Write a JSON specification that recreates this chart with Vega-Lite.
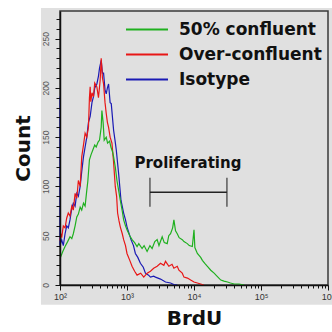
{
  "$schema": "https://vega.github.io/schema/vega-lite/v6.json",
  "width": 268,
  "height": 274,
  "autosize": "none",
  "padding": {"left": 60, "top": 11, "right": 4, "bottom": 47},
  "background": "white",
  "config": {"view": {"stroke": null}, "font": "Liberation Sans"},
  "resolve": {"axis": {"y": "independent"}},
  "datasets": {
    "hist": [
      {"s": "Isotype", "x": 100, "c": 191},
      {"s": "Isotype", "x": 100, "c": 40},
      {"s": "Isotype", "x": 106, "c": 46},
      {"s": "Isotype", "x": 112, "c": 40},
      {"s": "Isotype", "x": 119, "c": 52},
      {"s": "Isotype", "x": 126, "c": 60},
      {"s": "Isotype", "x": 133, "c": 58},
      {"s": "Isotype", "x": 141, "c": 66},
      {"s": "Isotype", "x": 150, "c": 78},
      {"s": "Isotype", "x": 158, "c": 83},
      {"s": "Isotype", "x": 168, "c": 80},
      {"s": "Isotype", "x": 178, "c": 93},
      {"s": "Isotype", "x": 188, "c": 90},
      {"s": "Isotype", "x": 200, "c": 100},
      {"s": "Isotype", "x": 211, "c": 115},
      {"s": "Isotype", "x": 224, "c": 130},
      {"s": "Isotype", "x": 237, "c": 140},
      {"s": "Isotype", "x": 251, "c": 150},
      {"s": "Isotype", "x": 266, "c": 165},
      {"s": "Isotype", "x": 282, "c": 171},
      {"s": "Isotype", "x": 300, "c": 185},
      {"s": "Isotype", "x": 316, "c": 191},
      {"s": "Isotype", "x": 330, "c": 200},
      {"s": "Isotype", "x": 355, "c": 204},
      {"s": "Isotype", "x": 375, "c": 212},
      {"s": "Isotype", "x": 389, "c": 220},
      {"s": "Isotype", "x": 412, "c": 228},
      {"s": "Isotype", "x": 430, "c": 215},
      {"s": "Isotype", "x": 447, "c": 215},
      {"s": "Isotype", "x": 470, "c": 198},
      {"s": "Isotype", "x": 490, "c": 194},
      {"s": "Isotype", "x": 510, "c": 200},
      {"s": "Isotype", "x": 531, "c": 204},
      {"s": "Isotype", "x": 560, "c": 185},
      {"s": "Isotype", "x": 582, "c": 184},
      {"s": "Isotype", "x": 631, "c": 157},
      {"s": "Isotype", "x": 668, "c": 145},
      {"s": "Isotype", "x": 692, "c": 137},
      {"s": "Isotype", "x": 750, "c": 113},
      {"s": "Isotype", "x": 813, "c": 86},
      {"s": "Isotype", "x": 891, "c": 73},
      {"s": "Isotype", "x": 950, "c": 66},
      {"s": "Isotype", "x": 1000, "c": 59},
      {"s": "Isotype", "x": 1148, "c": 46},
      {"s": "Isotype", "x": 1250, "c": 40},
      {"s": "Isotype", "x": 1334, "c": 32},
      {"s": "Isotype", "x": 1450, "c": 28},
      {"s": "Isotype", "x": 1585, "c": 22},
      {"s": "Isotype", "x": 1750, "c": 18},
      {"s": "Isotype", "x": 1884, "c": 12},
      {"s": "Isotype", "x": 2100, "c": 10},
      {"s": "Isotype", "x": 2239, "c": 8},
      {"s": "Isotype", "x": 2500, "c": 9},
      {"s": "Isotype", "x": 2661, "c": 8},
      {"s": "Isotype", "x": 3162, "c": 6},
      {"s": "Isotype", "x": 3758, "c": 3},
      {"s": "Isotype", "x": 4467, "c": 2},
      {"s": "Isotype", "x": 5000, "c": 0.5},
      {"s": "Isotype", "x": 5623, "c": 0},
      {"s": "Over-confluent", "x": 100, "c": 45},
      {"s": "Over-confluent", "x": 103, "c": 52},
      {"s": "Over-confluent", "x": 106, "c": 48},
      {"s": "Over-confluent", "x": 112, "c": 60},
      {"s": "Over-confluent", "x": 119, "c": 58},
      {"s": "Over-confluent", "x": 126, "c": 68},
      {"s": "Over-confluent", "x": 133, "c": 73},
      {"s": "Over-confluent", "x": 141, "c": 70},
      {"s": "Over-confluent", "x": 150, "c": 80},
      {"s": "Over-confluent", "x": 158, "c": 76},
      {"s": "Over-confluent", "x": 168, "c": 93},
      {"s": "Over-confluent", "x": 178, "c": 88},
      {"s": "Over-confluent", "x": 188, "c": 106},
      {"s": "Over-confluent", "x": 200, "c": 100},
      {"s": "Over-confluent", "x": 211, "c": 130},
      {"s": "Over-confluent", "x": 224, "c": 142},
      {"s": "Over-confluent", "x": 237, "c": 154},
      {"s": "Over-confluent", "x": 251, "c": 150},
      {"s": "Over-confluent", "x": 266, "c": 160},
      {"s": "Over-confluent", "x": 275, "c": 190},
      {"s": "Over-confluent", "x": 282, "c": 201},
      {"s": "Over-confluent", "x": 288, "c": 186},
      {"s": "Over-confluent", "x": 300, "c": 195},
      {"s": "Over-confluent", "x": 316, "c": 191},
      {"s": "Over-confluent", "x": 330, "c": 205},
      {"s": "Over-confluent", "x": 355, "c": 201},
      {"s": "Over-confluent", "x": 375, "c": 190},
      {"s": "Over-confluent", "x": 398, "c": 208},
      {"s": "Over-confluent", "x": 412, "c": 230},
      {"s": "Over-confluent", "x": 430, "c": 210},
      {"s": "Over-confluent", "x": 447, "c": 204},
      {"s": "Over-confluent", "x": 470, "c": 185},
      {"s": "Over-confluent", "x": 490, "c": 174},
      {"s": "Over-confluent", "x": 510, "c": 165},
      {"s": "Over-confluent", "x": 531, "c": 160},
      {"s": "Over-confluent", "x": 560, "c": 150},
      {"s": "Over-confluent", "x": 596, "c": 144},
      {"s": "Over-confluent", "x": 630, "c": 125},
      {"s": "Over-confluent", "x": 668, "c": 100},
      {"s": "Over-confluent", "x": 700, "c": 90},
      {"s": "Over-confluent", "x": 724, "c": 73},
      {"s": "Over-confluent", "x": 760, "c": 65},
      {"s": "Over-confluent", "x": 794, "c": 59},
      {"s": "Over-confluent", "x": 850, "c": 52},
      {"s": "Over-confluent", "x": 891, "c": 46},
      {"s": "Over-confluent", "x": 950, "c": 40},
      {"s": "Over-confluent", "x": 1000, "c": 32},
      {"s": "Over-confluent", "x": 1100, "c": 25},
      {"s": "Over-confluent", "x": 1189, "c": 19},
      {"s": "Over-confluent", "x": 1300, "c": 14},
      {"s": "Over-confluent", "x": 1413, "c": 10},
      {"s": "Over-confluent", "x": 1600, "c": 12},
      {"s": "Over-confluent", "x": 1778, "c": 8},
      {"s": "Over-confluent", "x": 2000, "c": 12},
      {"s": "Over-confluent", "x": 2239, "c": 14},
      {"s": "Over-confluent", "x": 2500, "c": 17},
      {"s": "Over-confluent", "x": 2818, "c": 19},
      {"s": "Over-confluent", "x": 3162, "c": 22},
      {"s": "Over-confluent", "x": 3548, "c": 20},
      {"s": "Over-confluent", "x": 3758, "c": 24},
      {"s": "Over-confluent", "x": 4217, "c": 19},
      {"s": "Over-confluent", "x": 4700, "c": 21},
      {"s": "Over-confluent", "x": 5012, "c": 17},
      {"s": "Over-confluent", "x": 5623, "c": 19},
      {"s": "Over-confluent", "x": 5957, "c": 15},
      {"s": "Over-confluent", "x": 6683, "c": 12},
      {"s": "Over-confluent", "x": 7079, "c": 8},
      {"s": "Over-confluent", "x": 8000, "c": 7},
      {"s": "Over-confluent", "x": 8913, "c": 5},
      {"s": "Over-confluent", "x": 10000, "c": 3},
      {"s": "Over-confluent", "x": 11220, "c": 2},
      {"s": "Over-confluent", "x": 12589, "c": 1},
      {"s": "Over-confluent", "x": 14000, "c": 0},
      {"s": "50% confluent", "x": 100, "c": 30},
      {"s": "50% confluent", "x": 103, "c": 29},
      {"s": "50% confluent", "x": 110, "c": 34},
      {"s": "50% confluent", "x": 119, "c": 39},
      {"s": "50% confluent", "x": 130, "c": 44},
      {"s": "50% confluent", "x": 141, "c": 49},
      {"s": "50% confluent", "x": 150, "c": 47},
      {"s": "50% confluent", "x": 158, "c": 52},
      {"s": "50% confluent", "x": 168, "c": 60},
      {"s": "50% confluent", "x": 178, "c": 69},
      {"s": "50% confluent", "x": 188, "c": 72},
      {"s": "50% confluent", "x": 200, "c": 79},
      {"s": "50% confluent", "x": 211, "c": 76},
      {"s": "50% confluent", "x": 224, "c": 83},
      {"s": "50% confluent", "x": 237, "c": 80},
      {"s": "50% confluent", "x": 251, "c": 96},
      {"s": "50% confluent", "x": 260, "c": 105},
      {"s": "50% confluent", "x": 275, "c": 127},
      {"s": "50% confluent", "x": 290, "c": 132},
      {"s": "50% confluent", "x": 309, "c": 137},
      {"s": "50% confluent", "x": 330, "c": 142},
      {"s": "50% confluent", "x": 347, "c": 140},
      {"s": "50% confluent", "x": 370, "c": 145},
      {"s": "50% confluent", "x": 389, "c": 147},
      {"s": "50% confluent", "x": 412, "c": 160},
      {"s": "50% confluent", "x": 422, "c": 177},
      {"s": "50% confluent", "x": 440, "c": 165},
      {"s": "50% confluent", "x": 457, "c": 147},
      {"s": "50% confluent", "x": 490, "c": 150},
      {"s": "50% confluent", "x": 513, "c": 144},
      {"s": "50% confluent", "x": 550, "c": 146},
      {"s": "50% confluent", "x": 575, "c": 140},
      {"s": "50% confluent", "x": 610, "c": 135},
      {"s": "50% confluent", "x": 631, "c": 130},
      {"s": "50% confluent", "x": 668, "c": 120},
      {"s": "50% confluent", "x": 708, "c": 106},
      {"s": "50% confluent", "x": 750, "c": 96},
      {"s": "50% confluent", "x": 794, "c": 86},
      {"s": "50% confluent", "x": 850, "c": 75},
      {"s": "50% confluent", "x": 891, "c": 66},
      {"s": "50% confluent", "x": 950, "c": 60},
      {"s": "50% confluent", "x": 1000, "c": 56},
      {"s": "50% confluent", "x": 1100, "c": 50},
      {"s": "50% confluent", "x": 1189, "c": 46},
      {"s": "50% confluent", "x": 1300, "c": 43},
      {"s": "50% confluent", "x": 1413, "c": 39},
      {"s": "50% confluent", "x": 1500, "c": 42},
      {"s": "50% confluent", "x": 1679, "c": 37},
      {"s": "50% confluent", "x": 1800, "c": 40},
      {"s": "50% confluent", "x": 1995, "c": 34},
      {"s": "50% confluent", "x": 2200, "c": 40},
      {"s": "50% confluent", "x": 2371, "c": 37},
      {"s": "50% confluent", "x": 2600, "c": 44},
      {"s": "50% confluent", "x": 2818, "c": 46},
      {"s": "50% confluent", "x": 3000, "c": 40},
      {"s": "50% confluent", "x": 3350, "c": 49},
      {"s": "50% confluent", "x": 3600, "c": 43},
      {"s": "50% confluent", "x": 3981, "c": 42},
      {"s": "50% confluent", "x": 4200, "c": 50},
      {"s": "50% confluent", "x": 4467, "c": 52},
      {"s": "50% confluent", "x": 4800, "c": 58},
      {"s": "50% confluent", "x": 5012, "c": 66},
      {"s": "50% confluent", "x": 5300, "c": 55},
      {"s": "50% confluent", "x": 5623, "c": 52},
      {"s": "50% confluent", "x": 6000, "c": 48},
      {"s": "50% confluent", "x": 6683, "c": 46},
      {"s": "50% confluent", "x": 7079, "c": 44},
      {"s": "50% confluent", "x": 7943, "c": 42},
      {"s": "50% confluent", "x": 8500, "c": 40},
      {"s": "50% confluent", "x": 9441, "c": 39},
      {"s": "50% confluent", "x": 10000, "c": 56},
      {"s": "50% confluent", "x": 10300, "c": 38},
      {"s": "50% confluent", "x": 11220, "c": 32},
      {"s": "50% confluent", "x": 12589, "c": 28},
      {"s": "50% confluent", "x": 13335, "c": 25},
      {"s": "50% confluent", "x": 14500, "c": 22},
      {"s": "50% confluent", "x": 15849, "c": 19},
      {"s": "50% confluent", "x": 17800, "c": 15},
      {"s": "50% confluent", "x": 19953, "c": 12},
      {"s": "50% confluent", "x": 22000, "c": 9},
      {"s": "50% confluent", "x": 25119, "c": 5},
      {"s": "50% confluent", "x": 28000, "c": 4},
      {"s": "50% confluent", "x": 31623, "c": 3},
      {"s": "50% confluent", "x": 35000, "c": 2},
      {"s": "50% confluent", "x": 39811, "c": 1},
      {"s": "50% confluent", "x": 47000, "c": 1},
      {"s": "50% confluent", "x": 56234, "c": 0}
    ],
    "gate": [
      {"label": "Proliferating", "lo": 2200, "hi": 31000, "count": 94}
    ]
  },
  "layer": [
    {
      "data": {"values": [{}]},
      "mark": {"type": "rect", "clip": false, "color": "#e0e0e0"},
      "encoding": {
        "x": {"datum": 52, "type": "quantitative"},
        "x2": {"datum": 1200000},
        "y": {
          "datum": -20, "type": "quantitative",
          "axis": {
            "orient": "left", "zindex": 1, "title": null, "labels": false, "domain": false, "grid": false,
            "values": [10, 20, 30, 40, 60, 70, 80, 90, 110, 120, 130, 140, 160, 170, 180, 190, 210, 220, 230, 240, 260, 270],
            "tickColor": "#111", "tickWidth": 1, "tickSize": 4
          }
        },
        "y2": {"datum": 281}
      }
    },
    {
      "data": {"values": [{}]},
      "mark": {"type": "rect", "clip": false, "fillOpacity": 0, "stroke": "#3a3a3a", "strokeWidth": 1.5},
      "encoding": {
        "x": {"datum": 100, "type": "quantitative"},
        "x2": {"datum": 1000000},
        "y": {"datum": 0, "type": "quantitative", "axis": null},
        "y2": {"datum": 278}
      }
    },
    {
      "data": {"name": "hist"},
      "mark": {"type": "line", "strokeWidth": 1.2, "interpolate": "linear"},
      "encoding": {
        "x": {
          "field": "x", "type": "quantitative",
          "scale": {"type": "log", "domain": [100, 1000000], "nice": false},
          "axis": {
            "zindex": 1,
            "title": "BrdU",
            "titleFont": "DejaVu Sans", "titleFontSize": 20, "titleFontWeight": "bold", "titleColor": "#111",
            "titlePadding": 7,
            "values": [100, 200, 300, 400, 500, 600, 700, 800, 900, 1000, 2000, 3000, 4000, 5000, 6000, 7000, 8000, 9000, 10000, 20000, 30000, 40000, 50000, 60000, 70000, 80000, 90000, 100000, 200000, 300000, 400000, 500000, 600000, 700000, 800000, 900000, 1000000],
            "labelExpr": "datum.value==100?'10²':datum.value==1000?'10³':datum.value==10000?'10⁴':datum.value==100000?'10⁵':datum.value==1000000?'10⁶':''",
            "labelFontSize": 9, "labelColor": "#333", "labelFlush": false, "labelOverlap": false, "labelPadding": 2,
            "tickColor": "#111", "domainColor": "#111", "domainWidth": 1.5, "tickWidth": 1,
            "tickSize": {"condition": {"test": "datum.value==100||datum.value==1000||datum.value==10000||datum.value==100000||datum.value==1000000", "value": 5}, "value": 3},
            "grid": false
          }
        },
        "y": {
          "field": "c", "type": "quantitative",
          "scale": {"domain": [0, 278], "nice": false},
          "axis": {
            "orient": "left",
            "zindex": 1,
            "title": "Count",
            "titleFont": "DejaVu Sans", "titleFontSize": 20, "titleFontWeight": "bold", "titleColor": "#111",
            "titlePadding": 8,
            "values": [0, 50, 100, 150, 200, 250],
            "labelAngle": -90, "labelFontSize": 8.5, "labelColor": "#555", "labelPadding": 5, "labelOverlap": false, "labelFlush": false,
            "tickColor": "#111", "domainColor": "#111", "domainWidth": 1.5, "tickWidth": 1, "tickSize": 5,
            "grid": false
          }
        },
        "color": {
          "field": "s", "type": "nominal",
          "scale": {"domain": ["50% confluent", "Over-confluent", "Isotype"], "range": ["#1fb01f", "#e81616", "#1a1ab4"]},
          "legend": {
            "title": null, "orient": "none", "legendX": 75.5, "legendY": 7,
            "symbolType": "M-2,0H2", "symbolSize": 441, "symbolStrokeWidth": 2,
            "labelFont": "DejaVu Sans", "labelFontSize": 17, "labelFontWeight": "bold", "labelColor": "#111",
            "labelOffset": 20.5, "rowPadding": 5, "padding": 0
          }
        },
        "detail": {"field": "s"},
        "order": {"value": null}
      }
    },
    {
      "data": {"name": "gate"},
      "mark": {"type": "rule", "color": "#222", "strokeWidth": 1.5},
      "encoding": {
        "x": {"field": "lo", "type": "quantitative"},
        "x2": {"field": "hi"},
        "y": {"field": "count", "type": "quantitative", "axis": null}
      }
    },
    {
      "data": {"name": "gate"},
      "mark": {"type": "tick", "orient": "vertical", "color": "#222", "size": 29, "thickness": 1.5},
      "encoding": {
        "x": {"field": "lo", "type": "quantitative"},
        "y": {"field": "count", "type": "quantitative", "axis": null}
      }
    },
    {
      "data": {"name": "gate"},
      "mark": {"type": "tick", "orient": "vertical", "color": "#222", "size": 29, "thickness": 1.5},
      "encoding": {
        "x": {"field": "hi", "type": "quantitative"},
        "y": {"field": "count", "type": "quantitative", "axis": null}
      }
    },
    {
      "data": {"name": "gate"},
      "mark": {"type": "text", "font": "DejaVu Sans", "fontSize": 15, "fontWeight": "bold", "color": "#111", "align": "center", "baseline": "middle", "dx": 38, "dy": -29},
      "encoding": {
        "x": {"field": "lo", "type": "quantitative"},
        "y": {"field": "count", "type": "quantitative", "axis": null},
        "text": {"field": "label"}
      }
    }
  ]
}
